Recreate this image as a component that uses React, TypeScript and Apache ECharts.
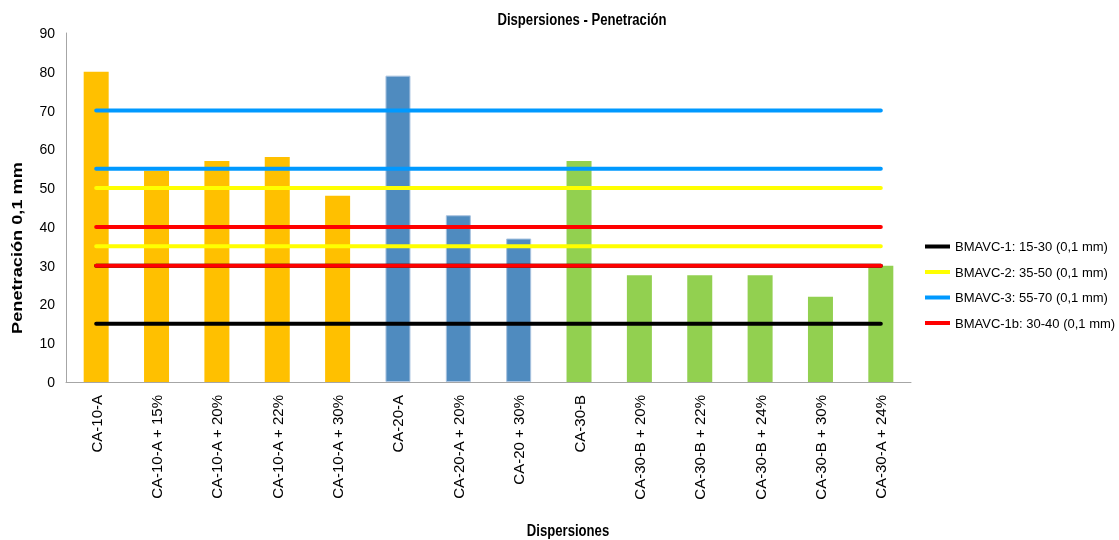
import React, { useEffect, useRef } from "react";
import * as echarts from "echarts";

const categories = [
  "CA-10-A",
  "CA-10-A + 15%",
  "CA-10-A + 20%",
  "CA-10-A + 22%",
  "CA-10-A + 30%",
  "CA-20-A",
  "CA-20-A + 20%",
  "CA-20 + 30%",
  "CA-30-B",
  "CA-30-B + 20%",
  "CA-30-B + 22%",
  "CA-30-B + 24%",
  "CA-30-B + 30%",
  "CA-30-A + 24%",
];
const penetration = [80, 54.5, 57, 58, 48, 79, 43, 37, 57, 27.5, 27.5, 27.5, 22, 30];
const barGroups = [0, 0, 0, 0, 0, 1, 1, 1, 2, 2, 2, 2, 2, 2];
const groupColors = ["#FFC000", "#4F8BBF", "#92D050"];

const limitNames = [
  "BMAVC-1: 15-30 (0,1 mm)",
  "BMAVC-2: 35-50 (0,1 mm)",
  "BMAVC-3: 55-70 (0,1 mm)",
  "BMAVC-1b: 30-40 (0,1 mm)",
];
const limitLow = [15, 35, 55, 30];
const limitHigh = [30, 50, 70, 40];
const limitColors = ["#000000", "#FFFF00", "#0099FF", "#FF0000"];

const yTicks = { min: 0, max: 90, interval: 10 };

const SANS = "'Liberation Sans', Arial, sans-serif";

export default function App() {
  const ref = useRef<HTMLDivElement>(null);
  useEffect(() => {
    if (!ref.current) return;
    const chart = echarts.init(ref.current, null, { renderer: "svg" });

    const lineSeries: any[] = [];
    limitNames.forEach((name, i) => {
      [limitLow[i], limitHigh[i]].forEach((v) => {
        lineSeries.push({
          type: "line",
          name,
          data: categories.map(() => v),
          symbol: "none",
          color: limitColors[i],
          lineStyle: { color: limitColors[i], width: 4, cap: "round" },
          z: 3 + i,
          silent: true,
        });
      });
    });

    chart.setOption({
      animation: false,
      grid: { left: 66, right: 208, top: 33, bottom: 158, containLabel: false },
      legend: {
        data: limitNames,
        orient: "vertical",
        left: 920,
        top: 235,
        icon: "rect",
        itemWidth: 25,
        itemHeight: 4,
        itemGap: 12.5,
        textStyle: { fontSize: 13, fontFamily: SANS, color: "#000" },
      },
      xAxis: {
        type: "category",
        data: categories,
        axisLine: { show: true, lineStyle: { color: "#A6A6A6", width: 1 } },
        axisTick: { show: false },
        axisLabel: {
          interval: 0,
          rotate: 90,
          margin: 13,
          fontSize: 15,
          fontFamily: SANS,
          color: "#000",
        },
      },
      yAxis: {
        type: "value",
        min: yTicks.min,
        max: yTicks.max,
        interval: yTicks.interval,
        axisLine: { show: true, lineStyle: { color: "#A6A6A6", width: 1 } },
        axisTick: { show: false },
        splitLine: { show: false },
        axisLabel: { fontSize: 14, fontFamily: SANS, color: "#000", margin: 11 },
      },
      graphic: [
        {
          type: "text",
          x: 582,
          y: 20,
          scaleX: 0.82,
          style: {
            text: "Dispersiones - Penetración",
            font: `bold 16px ${SANS}`,
            textAlign: "center",
            textVerticalAlign: "middle",
            fill: "#000",
          },
        },
        {
          type: "text",
          x: 568,
          y: 531,
          scaleX: 0.82,
          style: {
            text: "Dispersiones",
            font: `bold 16px ${SANS}`,
            textAlign: "center",
            textVerticalAlign: "middle",
            fill: "#000",
          },
        },
        {
          type: "text",
          x: 17,
          y: 248,
          rotation: Math.PI / 2,
          scaleX: 1.3,
          style: {
            text: "Penetración 0,1 mm",
            font: `bold 14px ${SANS}`,
            textAlign: "center",
            textVerticalAlign: "middle",
            fill: "#000",
          },
        },
      ],
      series: [
        {
          type: "bar",
          name: "Penetración",
          barWidth: 25,
          data: penetration.map((v, i) => ({
            value: v,
            itemStyle: {
              color: groupColors[barGroups[i]],
              borderColor: barGroups[i] === 1 ? "#A9C3E0" : groupColors[barGroups[i]],
              borderWidth: barGroups[i] === 1 ? 1 : 0,
            },
          })),
          z: 2,
        },
        ...lineSeries,
      ],
    });
    return () => chart.dispose();
  }, []);
  return (
    <div
      ref={ref}
      style={{ position: "fixed", left: 0, top: 0, width: 1119, height: 540 }}
    />
  );
}
